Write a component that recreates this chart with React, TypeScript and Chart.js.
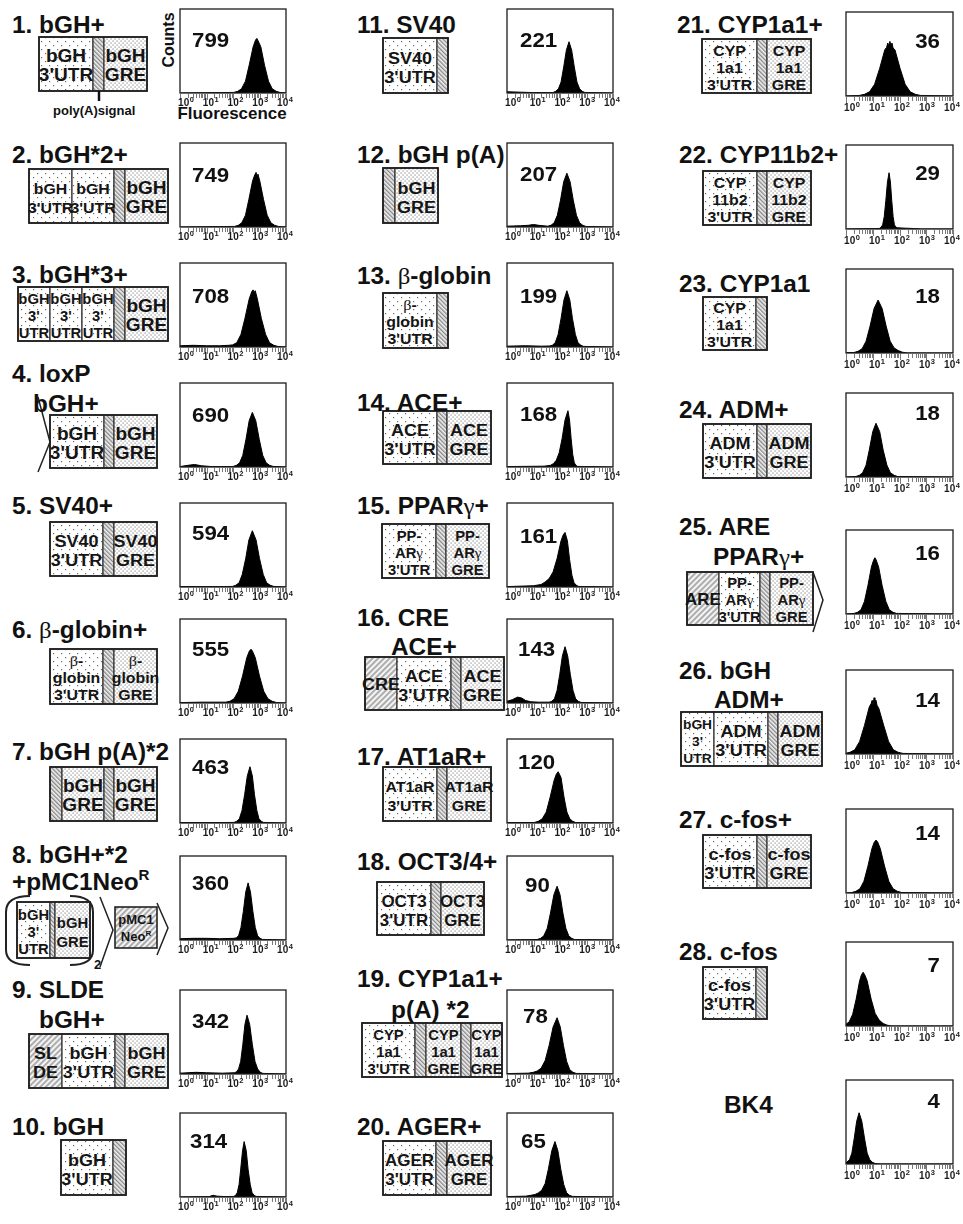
import React, { useEffect, useRef } from "react";
import { Chart, registerables } from "chart.js";

Chart.register(...registerables);

const FONT = '"Liberation Sans", Arial, Helvetica, sans-serif';

// ---------------- data ----------------
const PANEL_TITLES: string[][] = [
  ["1. bGH+"], ["2. bGH*2+"], ["3. bGH*3+"], ["4. loxP", "bGH+"], ["5. SV40+"],
  ["6. β-globin+"], ["7. bGH p(A)*2"], ["8. bGH+*2", "+pMC1Neo^R"], ["9. SLDE", "bGH+"], ["10. bGH"],
  ["11. SV40"], ["12. bGH p(A)"], ["13. β-globin"], ["14. ACE+"], ["15. PPARγ+"],
  ["16. CRE", "ACE+"], ["17. AT1aR+"], ["18. OCT3/4+"], ["19. CYP1a1+", "p(A) *2"], ["20. AGER+"],
  ["21. CYP1a1+"], ["22. CYP11b2+"], ["23. CYP1a1"], ["24. ADM+"], ["25. ARE", "PPARγ+"],
  ["26. bGH", "ADM+"], ["27. c-fos+"], ["28. c-fos"], ["BK4"],
];

const MEAN_FLUORESCENCE = [
  799, 749, 708, 690, 594, 555, 463, 360, 342, 314,
  221, 207, 199, 168, 161, 143, 120, 90, 78, 65,
  36, 29, 18, 18, 16, 14, 14, 7, 4,
];

const DECADE_EXPONENTS = [0, 1, 2, 3, 4];
const MINOR_MULTIPLIERS = [1, 2, 3, 4, 5, 6, 7, 8, 9];

// histograms: [log10 fluorescence, counts (% of axis height)]
const hist01 = [[0,0],[1.5,0.5],[2.03,0.7],[2.18,2],[2.32,5],[2.47,14],[2.61,33],[2.76,55],[2.85,63],[2.9,65],[2.95,62],[3.05,55],[3.19,33],[3.34,14],[3.48,5],[3.63,2],[3.77,0.7],[4,0]];
const hist02 = [[0,0],[1.5,0.5],[2.06,0.7],[2.2,2],[2.33,5],[2.47,14],[2.6,33],[2.74,55],[2.82,62],[2.87,65],[2.91,61],[2.94,63],[3.01,55],[3.15,33],[3.29,14],[3.43,5],[3.57,2],[3.71,0.7],[4,0]];
const hist03 = [[0,1.5],[0.5,2],[1,1.5],[1.5,1.5],[1.83,2],[1.98,2.5],[2.14,5],[2.3,15],[2.45,34],[2.61,57],[2.71,66],[2.76,68],[2.8,65],[2.84,67],[2.92,57],[3.07,34],[3.23,15],[3.38,5],[3.54,2],[3.69,0.7],[4,0]];
const hist04 = [[0,0.5],[0.3,2],[0.55,3],[0.8,1.5],[1.2,0.5],[1.9,0.5],[2.01,0.7],[2.13,2],[2.25,5],[2.37,14],[2.49,33],[2.61,55],[2.73,65],[2.86,55],[2.99,33],[3.12,14],[3.25,5],[3.38,2],[3.51,0.7],[4,0]];
const hist05 = [[0,0.5],[1.5,0.5],[1.98,0.7],[2.1,2],[2.23,5],[2.35,15],[2.48,34],[2.6,56],[2.73,67],[2.87,56],[3.0,34],[3.14,15],[3.27,5],[3.41,2],[3.54,0.7],[4,0]];
const hist06 = [[0,0.5],[0.8,1],[1.2,1],[1.72,1],[1.88,2],[2.04,5],[2.2,14],[2.36,32],[2.52,54],[2.62,62],[2.68,64],[2.73,62],[2.84,54],[3.0,32],[3.16,14],[3.32,5],[3.48,2],[3.64,0.6],[4,0]];
const hist07 = [[0,0.5],[1.5,0.5],[2.04,0.7],[2.14,2],[2.24,5],[2.34,15],[2.44,34],[2.54,56],[2.64,67],[2.73,56],[2.81,34],[2.9,15],[2.98,5],[3.07,2],[3.15,0.7],[4,0]];
const hist08 = [[0,1.5],[0.5,2],[1,2],[1.5,1.5],[2.03,2],[2.12,2.5],[2.21,5],[2.3,15],[2.39,34],[2.48,57],[2.57,68],[2.66,57],[2.75,34],[2.84,15],[2.93,5],[3.02,2],[3.11,0.7],[4,0]];
const hist09 = [[0,1],[0.6,2],[1,1.5],[1.6,1],[2.05,1.5],[2.13,2.5],[2.21,6],[2.29,15],[2.37,35],[2.45,59],[2.53,70],[2.63,59],[2.73,35],[2.83,15],[2.93,6],[3.03,2],[3.13,0.7],[4,0]];
const hist10 = [[0,0],[1.1,0.5],[1.25,2],[1.4,1],[1.7,0.5],[2.03,0.7],[2.1,2],[2.16,5],[2.23,15],[2.29,33],[2.36,55],[2.42,66],[2.5,55],[2.57,33],[2.65,15],[2.72,5],[2.8,2],[2.87,0.7],[4,0]];
const hist11 = [[0,1.5],[0.5,1],[1,0.5],[1.5,0.5],[1.74,0.6],[1.84,2],[1.94,5],[2.04,13],[2.14,31],[2.24,51],[2.34,61],[2.44,51],[2.54,31],[2.64,13],[2.74,5],[2.84,2],[2.94,0.6],[4,0]];
const hist12 = [[0,1],[0.5,1.5],[0.8,2],[1.0,3],[1.2,2],[1.54,1],[1.66,2],[1.78,5],[1.9,14],[2.02,32],[2.14,54],[2.26,64],[2.38,54],[2.5,32],[2.62,14],[2.74,5],[2.86,2],[2.98,0.6],[4,0]];
const hist13 = [[0,1],[0.7,1.5],[1.3,1],[1.6,1.2],[1.71,2],[1.82,5],[1.93,15],[2.04,34],[2.15,56],[2.26,67],[2.37,56],[2.47,34],[2.58,15],[2.68,5],[2.79,2],[2.89,0.7],[4,0]];
const hist14 = [[0,0.5],[1.4,1],[1.64,2],[1.75,4],[1.86,8],[1.97,17],[2.08,34],[2.19,56],[2.3,67],[2.36,56],[2.42,34],[2.48,15],[2.54,5],[2.6,2],[2.66,0.7],[4,0]];
const hist15 = [[0,0.5],[1.0,1.5],[1.29,3],[1.44,6],[1.59,10],[1.74,18],[1.89,34],[2.04,55],[2.12,62],[2.19,65],[2.28,55],[2.36,33],[2.45,14],[2.53,5],[2.62,2],[2.7,0.7],[4,0]];
const hist16 = [[0,2],[0.2,4],[0.4,7],[0.55,6],[0.7,3],[0.9,1.5],[1.2,1],[1.59,1],[1.69,2],[1.79,5],[1.89,15],[1.99,34],[2.09,56],[2.19,67],[2.29,56],[2.39,34],[2.49,15],[2.59,5],[2.69,2],[2.79,0.7],[4,0]];
const hist17 = [[0,0.5],[1.03,0.6],[1.18,2],[1.33,5],[1.48,13],[1.63,31],[1.78,51],[1.86,58],[1.93,61],[1.98,58],[2.04,54],[2.15,31],[2.26,13],[2.37,5],[2.48,2],[2.59,0.6],[4,0]];
const hist18 = [[0,0],[1.14,0.6],[1.27,2],[1.39,5],[1.52,14],[1.64,32],[1.77,54],[1.89,64],[2.0,54],[2.11,32],[2.22,14],[2.33,5],[2.44,2],[2.55,0.6],[4,0]];
const hist19 = [[0,0.5],[0.8,1],[0.99,2],[1.14,3.5],[1.29,7],[1.44,16],[1.59,34],[1.74,56],[1.89,67],[2.01,56],[2.13,34],[2.25,15],[2.37,5],[2.49,2],[2.61,0.7],[4,0]];
const hist20 = [[0,0.5],[0.7,1],[0.9,2],[1.06,3],[1.19,5],[1.31,8],[1.44,16],[1.56,33],[1.69,55],[1.81,66],[1.92,55],[2.03,33],[2.14,15],[2.25,5],[2.36,2],[2.47,0.7],[4,0]];
const hist21 = [[0,0],[0.5,0.7],[0.69,2],[0.88,5],[1.07,14],[1.26,33],[1.45,55],[1.52,58],[1.56,63],[1.6,60],[1.64,65],[1.68,61],[1.72,63],[1.76,57],[1.83,55],[2.02,33],[2.21,14],[2.4,5],[2.59,2],[2.78,0.7],[4,0]];
const hist22 = [[0,0],[1.1,0.5],[1.25,0.7],[1.31,2],[1.37,5],[1.43,15],[1.49,34],[1.55,56],[1.61,67],[1.66,56],[1.71,34],[1.76,15],[1.81,5],[1.86,2.5],[1.91,1.5],[2.2,1],[2.6,0.5],[2.8,0],[4,0]];
const hist23 = [[0,0.5],[0.3,0.6],[0.45,2],[0.6,5],[0.75,14],[0.9,32],[1.05,53],[1.2,63],[1.35,53],[1.5,32],[1.65,14],[1.8,6],[1.95,3],[2.1,1],[2.3,0],[4,0]];
const hist24 = [[0,0],[0.37,0.6],[0.5,2],[0.62,5],[0.75,14],[0.87,32],[1.0,54],[1.12,64],[1.26,54],[1.39,32],[1.53,14],[1.66,5],[1.8,2],[1.93,0.6],[4,0]];
const hist25 = [[0,0],[0.3,0.7],[0.43,2],[0.56,5],[0.69,15],[0.82,34],[0.95,56],[1.03,64],[1.08,67],[1.12,65],[1.22,56],[1.35,34],[1.49,15],[1.62,5],[1.76,2],[1.89,0.7],[4,0]];
const hist26 = [[0,1],[0.15,2],[0.33,5],[0.51,15],[0.69,34],[0.87,56],[0.94,60],[0.98,64],[1.01,58],[1.05,67],[1.08,60],[1.12,64],[1.16,58],[1.23,54],[1.41,34],[1.59,15],[1.77,5],[1.95,2],[2.13,0.7],[4,0]];
const hist27 = [[0,0],[0.22,0.6],[0.37,2],[0.52,5],[0.67,14],[0.82,32],[0.97,53],[1.05,60],[1.12,63],[1.18,61],[1.28,53],[1.44,32],[1.6,14],[1.76,5],[1.92,2],[2.08,0.6],[4,0]];
const hist28 = [[0,2],[0.12,5],[0.25,14],[0.38,32],[0.51,54],[0.58,61],[0.64,64],[0.7,61],[0.79,54],[0.94,32],[1.09,15],[1.24,7],[1.39,3],[1.54,1],[1.7,0],[4,0]];
const hist29 = [[0,1.5],[0.13,5],[0.22,13],[0.31,31],[0.4,51],[0.49,61],[0.59,51],[0.69,31],[0.79,13],[0.89,5],[0.99,2],[1.09,0.6],[1.3,0],[4,0]];

const HISTOGRAMS = [
  hist01, hist02, hist03, hist04, hist05, hist06, hist07, hist08, hist09, hist10,
  hist11, hist12, hist13, hist14, hist15, hist16, hist17, hist18, hist19, hist20,
  hist21, hist22, hist23, hist24, hist25, hist26, hist27, hist28, hist29,
];

// ---------------- layout ----------------
const COL_X = [180, 507, 846];
const BOX_W = [106, 106, 107];
const BOX_H = 84;
const ROW_Y_AB = [9, 143, 263, 383, 503, 619, 739, 856, 990, 1113];
const ROW_Y_C = [12, 145, 269, 393, 530, 670, 809, 942, 1080];
const TICK_LABEL_DY = [12, 12, 14];
const PAD = { l: 3, t: 3, r: 10, b: 18 };

// number label: [dx from left (or from right for col 3), baseline dy from top]
const NUM_POS = [
  [12, 38], [12, 39], [12, 40], [12, 39], [12, 37], [12, 37], [12, 35], [12, 34], [12, 38], [10, 35],
  [13, 38], [13, 38], [13, 40], [13, 38], [13, 40], [11, 37], [11, 30], [18, 36], [16, 33], [14, 35],
  [13, 36], [13, 35], [13, 34], [13, 27], [13, 30], [13, 37], [13, 31], [13, 30], [13, 28],
];

const TITLE_POS = [
  [[12, 33]], [[12, 163]], [[12, 283]], [[12, 382], [33, 412]], [[12, 514]],
  [[12, 638]], [[12, 760]], [[12, 863], [12, 890]], [[12, 998], [39, 1028]], [[12, 1135]],
  [[357, 33]], [[357, 163]], [[357, 284]], [[357, 411]], [[357, 514]],
  [[357, 626], [391, 655]], [[357, 765]], [[357, 870]], [[357, 987], [391, 1018]], [[357, 1135]],
  [[677, 33]], [[679, 163]], [[679, 292]], [[679, 418]], [[679, 535], [713, 565]],
  [[679, 679], [714, 708]], [[679, 828]], [[679, 960]], [[724, 1113]],
];

type Seg = [string, number, string[]?, number?];
type Diag = { x: number; y: number; h: number; segs: Seg[] };
const U3 = "3'UTR";
const DIAGRAMS: (Diag | null)[] = [
  { x: 39, y: 37, h: 54, segs: [["u", 54, ["bGH", U3], 18], ["p", 11], ["g", 43, ["bGH", "GRE"], 18]] },
  { x: 29, y: 169, h: 54, segs: [["u", 43, ["bGH", U3], 15], ["u", 42, ["bGH", U3], 15], ["p", 11], ["g", 43, ["bGH", "GRE"], 18]] },
  { x: 18, y: 287, h: 54, segs: [["u", 32, ["bGH", "3'", "UTR"], 14], ["u", 32, ["bGH", "3'", "UTR"], 14], ["u", 32, ["bGH", "3'", "UTR"], 14], ["p", 11], ["g", 43, ["bGH", "GRE"], 18]] },
  { x: 50, y: 415, h: 53, segs: [["u", 54, ["bGH", U3], 18], ["p", 10], ["g", 43, ["bGH", "GRE"], 18]] },
  { x: 50, y: 522, h: 54, segs: [["u", 53, ["SV40", U3], 17], ["p", 11], ["g", 43, ["SV40", "GRE"], 17]] },
  { x: 50, y: 649, h: 55, segs: [["u", 53, ["β-", "globin", U3], 15], ["p", 11], ["g", 43, ["β-", "globin", "GRE"], 15]] },
  { x: 50, y: 767, h: 54, segs: [["p", 12], ["g", 42, ["bGH", "GRE"], 18], ["p", 10], ["g", 43, ["bGH", "GRE"], 18]] },
  { x: 17, y: 902, h: 56, segs: [["u", 33, ["bGH", "3'", "UTR"], 14], ["p", 5], ["g", 35, ["bGH", "GRE"], 14]] },
  { x: 29, y: 1034, h: 54, segs: [["w", 33, ["SL", "DE"], 17], ["u", 53, ["bGH", U3], 17], ["p", 10], ["g", 43, ["bGH", "GRE"], 17]] },
  { x: 61, y: 1140, h: 55, segs: [["u", 52, ["bGH", U3], 17], ["p", 13]] },
  { x: 383, y: 38, h: 55, segs: [["u", 54, ["SV40", U3], 17], ["p", 11]] },
  { x: 383, y: 168, h: 55, segs: [["p", 12], ["g", 43, ["bGH", "GRE"], 17]] },
  { x: 383, y: 293, h: 55, segs: [["u", 54, ["β-", "globin", U3], 15], ["p", 11]] },
  { x: 383, y: 411, h: 53, segs: [["u", 54, ["ACE", U3], 17], ["p", 10], ["g", 44, ["ACE", "GRE"], 17]] },
  { x: 382, y: 524, h: 54, segs: [["u", 54, ["PP-", "ARγ", U3], 14], ["p", 10], ["g", 43, ["PP-", "ARγ", "GRE"], 14]] },
  { x: 365, y: 657, h: 53, segs: [["w", 32, ["CRE"], 17], ["u", 54, ["ACE", U3], 17], ["p", 10], ["g", 43, ["ACE", "GRE"], 17]] },
  { x: 383, y: 767, h: 54, segs: [["u", 54, ["AT1aR", U3], 15], ["p", 10], ["g", 44, ["AT1aR", "GRE"], 15]] },
  { x: 377, y: 882, h: 53, segs: [["u", 54, ["OCT3", U3], 16], ["p", 10], ["g", 43, ["OCT3", "GRE"], 16]] },
  { x: 362, y: 1023, h: 54, segs: [["u", 53, ["CYP", "1a1", U3], 14], ["p", 11], ["g", 35, ["CYP", "1a1", "GRE"], 14], ["p", 10], ["g", 31, ["CYP", "1a1", "GRE"], 14]] },
  { x: 383, y: 1141, h: 54, segs: [["u", 53, ["AGER", U3], 16], ["p", 11], ["g", 44, ["AGER", "GRE"], 16]] },
  { x: 702, y: 39, h: 54, segs: [["u", 55, ["CYP", "1a1", U3], 15], ["p", 10], ["g", 44, ["CYP", "1a1", "GRE"], 15]] },
  { x: 703, y: 171, h: 54, segs: [["u", 54, ["CYP", "11b2", U3], 15], ["p", 10], ["g", 44, ["CYP", "11b2", "GRE"], 15]] },
  { x: 703, y: 297, h: 53, segs: [["u", 53, ["CYP", "1a1", U3], 15], ["p", 11]] },
  { x: 703, y: 424, h: 54, segs: [["u", 54, ["ADM", U3], 17], ["p", 10], ["g", 44, ["ADM", "GRE"], 17]] },
  { x: 687, y: 572, h: 53, segs: [["w", 32, ["ARE"], 16], ["u", 41, ["PP-", "ARγ", U3], 14], ["p", 10], ["g", 43, ["PP-", "ARγ", "GRE"], 14]] },
  { x: 681, y: 712, h: 54, segs: [["u", 33, ["bGH", "3'", "UTR"], 13], ["u", 54, ["ADM", U3], 17], ["p", 10], ["g", 44, ["ADM", "GRE"], 17]] },
  { x: 703, y: 835, h: 53, segs: [["u", 54, ["c-fos", U3], 17], ["p", 10], ["g", 44, ["c-fos", "GRE"], 17]] },
  { x: 703, y: 967, h: 52, segs: [["u", 53, ["c-fos", U3], 17], ["p", 11]] },
  null,
];

const FILL: Record<string, string> = { u: "url(#pUtr)", g: "url(#pGre)", p: "url(#pPa)", w: "url(#pWide)" };

function rich(s: string, fs: number, kp: string) {
  const out: React.ReactNode[] = [];
  let buf = "";
  let k = 0;
  const flush = () => {
    if (buf) {
      out.push(<tspan key={kp + k++}>{buf}</tspan>);
      buf = "";
    }
  };
  for (let i = 0; i < s.length; i++) {
    const c = s[i];
    if (c === "β" || c === "γ") {
      flush();
      out.push(
        <tspan key={kp + k++} fontFamily="'Liberation Serif','DejaVu Serif',serif" fontWeight="normal" fontSize={fs * 1.02}>
          {c}
        </tspan>
      );
    } else if (c === "^") {
      flush();
      out.push(
        <tspan key={kp + k++} fontSize={fs * 0.62} dy={-fs * 0.42}>
          {s[i + 1]}
        </tspan>
      );
      i++;
    } else buf += c;
  }
  flush();
  return out;
}

function DiagramView({ d, idx }: { d: Diag; idx: number }) {
  const rects: React.ReactNode[] = [];
  const texts: React.ReactNode[] = [];
  let cx = d.x;
  d.segs.forEach((s, i) => {
    const [kind, w, lines, fs] = s;
    rects.push(<rect key={"r" + i} x={cx} y={d.y} width={w} height={d.h} fill={FILL[kind]} stroke="#333" strokeWidth={1.2} />);
    if (lines && fs) {
      const n = lines.length;
      const ls = n === 3 ? 17 : n === 2 ? 19 : fs;
      const b0 = d.y + (d.h - n * ls) / 2 + ls * 0.9;
      lines.forEach((ln, j) => {
        texts.push(
          <text
            key={"t" + i + "_" + j}
            transform={`translate(${cx + w / 2},${b0 + j * ls}) scale(1.06,1)`}
            textAnchor="middle"
            fontSize={fs}
            fontWeight="bold"
            fontFamily={FONT}
            fill="#151515"
          >
            {rich(ln, fs, "d" + idx + i + j)}
          </text>
        );
      });
    }
    cx += w;
  });
  return (
    <g>
      {rects}
      <rect x={d.x} y={d.y} width={cx - d.x} height={d.h} fill="none" stroke="#222" strokeWidth={1.8} />
      {texts}
    </g>
  );
}

function HistPanel({ i }: { i: number }) {
  const ref = useRef<HTMLCanvasElement | null>(null);
  const col = i < 10 ? 0 : i < 20 ? 1 : 2;
  const row = col === 2 ? i - 20 : i - col * 10;
  const bx = COL_X[col];
  const by = col === 2 ? ROW_Y_C[row] : ROW_Y_AB[row];
  const bw = BOX_W[col];
  const cw = bw + PAD.l + PAD.r;
  const ch = BOX_H + PAD.t + PAD.b;

  useEffect(() => {
    const pts = HISTOGRAMS[i].map(([lx, c]) => ({ x: Math.pow(10, lx), y: c }));
    const [ndx, ndy] = NUM_POS[i];
    const tdy = TICK_LABEL_DY[col];
    const frame = {
      id: "frame" + i,
      afterDraw(chart: any) {
        const { ctx, chartArea: a } = chart;
        const xs = chart.scales.x;
        ctx.save();
        // log ticks under the axis
        ctx.strokeStyle = "#7a7a7a";
        ctx.lineWidth = 1;
        ctx.beginPath();
        DECADE_EXPONENTS.forEach((d) =>
          MINOR_MULTIPLIERS.forEach((m) => {
            const v = m * Math.pow(10, d);
            if (v > 10000) return;
            const px = Math.round(xs.getPixelForValue(v)) + 0.5;
            const len = m === 1 ? 6 : 4;
            ctx.moveTo(px, a.bottom + 1);
            ctx.lineTo(px, a.bottom + 1 + len);
          })
        );
        ctx.stroke();
        // frame
        ctx.strokeStyle = "#1c1c1c";
        ctx.lineWidth = 1.3;
        ctx.strokeRect(a.left, a.top, a.right - a.left, a.bottom - a.top);
        // tick labels 10^k
        ctx.fillStyle = "#1a1a1a";
        ctx.textAlign = "left";
        ctx.textBaseline = "alphabetic";
        const span = a.right - 1 - (a.left + 6);
        DECADE_EXPONENTS.forEach((k, j) => {
          const cx = a.left + 6 + (span * j) / 4;
          ctx.font = `bold 10px ${FONT}`;
          const w10 = ctx.measureText("10").width;
          ctx.font = `bold 7.5px ${FONT}`;
          const ws = ctx.measureText(String(k)).width;
          const sx = cx - (w10 + ws + 0.5) / 2;
          ctx.font = `bold 10px ${FONT}`;
          ctx.fillText("10", sx, a.bottom + tdy + 1);
          ctx.font = `bold 7.5px ${FONT}`;
          ctx.fillText(String(k), sx + w10 + 0.5, a.bottom + tdy - 3.5);
        });
        // mean fluorescence value
        ctx.fillStyle = "#111";
        ctx.font = `bold 21px ${FONT}`;
        ctx.save();
        if (col === 2) {
          ctx.textAlign = "right";
          ctx.translate(a.right - ndx, a.top + ndy);
        } else {
          ctx.textAlign = "left";
          ctx.translate(a.left + ndx, a.top + ndy);
        }
        ctx.scale(1.06, 1);
        ctx.fillText(String(MEAN_FLUORESCENCE[i]), 0, 0);
        ctx.restore();
        ctx.restore();
      },
    };
    const chart = new Chart(ref.current as HTMLCanvasElement, {
      type: "line",
      data: {
        datasets: [
          {
            data: pts,
            fill: "origin",
            backgroundColor: "#000",
            borderColor: "#000",
            borderWidth: 1,
            pointRadius: 0,
            tension: 0,
          },
        ],
      },
      options: {
        responsive: false,
        animation: false,
        events: [],
        layout: { padding: { left: PAD.l, top: PAD.t, right: PAD.r, bottom: PAD.b } },
        plugins: { legend: { display: false }, tooltip: { enabled: false } },
        scales: {
          x: { type: "logarithmic", min: 1, max: 10000, display: false },
          y: { type: "linear", min: 0, max: 100, display: false },
        },
      } as any,
      plugins: [frame as any],
    });
    return () => chart.destroy();
  }, [i]);

  return (
    <canvas
      ref={ref}
      width={cw}
      height={ch}
      style={{ position: "absolute", left: bx - PAD.l, top: by - PAD.t, width: cw, height: ch }}
    />
  );
}

export default function App() {
  return (
    <div
      style={{
        position: "absolute",
        left: 0,
        top: 0,
        width: 963,
        height: 1224,
        overflow: "hidden",
        background: "#fff",
      }}
    >
      <svg width={963} height={1224} style={{ position: "absolute", left: 0, top: 0 }}>
        <defs>
          <pattern id="pUtr" patternUnits="userSpaceOnUse" width="8" height="8">
            <rect width="8" height="8" fill="#fff" />
            <rect x="1" y="1" width="1.2" height="1.2" fill="#6a6a6a" />
            <rect x="5" y="5" width="1.2" height="1.2" fill="#6a6a6a" />
          </pattern>
          <pattern id="pGre" patternUnits="userSpaceOnUse" width="4" height="4">
            <rect width="4" height="4" fill="#fff" />
            <rect x="0.5" y="0.5" width="1.1" height="1.1" fill="#777" />
            <rect x="2.5" y="2.5" width="1.1" height="1.1" fill="#777" />
          </pattern>
          <pattern id="pPa" patternUnits="userSpaceOnUse" width="3" height="3" patternTransform="rotate(-45)">
            <rect width="3" height="3" fill="#f0f0f0" />
            <line x1="0.75" y1="0" x2="0.75" y2="3" stroke="#555" strokeWidth="0.9" />
          </pattern>
          <pattern id="pWide" patternUnits="userSpaceOnUse" width="4" height="4" patternTransform="rotate(45)">
            <rect width="4" height="4" fill="#f4f4f4" />
            <line x1="1" y1="0" x2="1" y2="4" stroke="#666" strokeWidth="1" />
          </pattern>
        </defs>

        {DIAGRAMS.map((d, i) => (d ? <DiagramView key={"dg" + i} d={d} idx={i} /> : null))}

        {/* decorations */}
        <line x1={99} y1={91} x2={99} y2={101} stroke="#111" strokeWidth={2.5} />
        <text x={53} y={115} fontSize={13} fontWeight="bold" fontFamily={FONT} fill="#111">
          poly(A)signal
        </text>
        <polyline points="38,397 50,442 38,472" fill="none" stroke="#222" strokeWidth={1.5} />
        <path d="M 30 896 Q 6 896 6 912 L 6 950 Q 6 965 30 965" fill="none" stroke="#222" strokeWidth={2} />
        <path d="M 70 896 Q 93 896 93 912 L 93 950 Q 93 965 70 965" fill="none" stroke="#222" strokeWidth={2} />
        <text x={94} y={969} fontSize={13} fontWeight="bold" fontFamily={FONT} fill="#111">
          2
        </text>
        <polyline points="100,897 113,930 100,967" fill="none" stroke="#222" strokeWidth={1.5} />
        <rect x={115} y={907} width={42} height={41} fill="url(#pWide)" stroke="#222" strokeWidth={1.6} />
        <text transform="translate(136,924)" textAnchor="middle" fontSize={13} fontWeight="bold" fontFamily={FONT} fill="#151515">
          pMC1
        </text>
        <text transform="translate(136,941)" textAnchor="middle" fontSize={13} fontWeight="bold" fontFamily={FONT} fill="#151515">
          {rich("Neo^R", 13, "neo")}
        </text>
        <polyline points="157,903 168,928 157,955" fill="none" stroke="#222" strokeWidth={1.5} />
        <polyline points="813,572 823,600 813,632" fill="none" stroke="#222" strokeWidth={1.5} />

        {/* axis captions (panel 1) */}
        <text transform="translate(174,40) rotate(-90)" textAnchor="middle" fontSize={16} fontWeight="bold" fontFamily={FONT} fill="#111">
          Counts
        </text>
        <text transform="translate(232,119) scale(1.06,1)" textAnchor="middle" fontSize={16} fontWeight="bold" fontFamily={FONT} fill="#111">
          Fluorescence
        </text>

        {/* titles */}
        {PANEL_TITLES.map((lines, i) =>
          lines.map((ln, j) => (
            <text
              key={"ti" + i + "_" + j}
              transform={`translate(${TITLE_POS[i][j][0]},${TITLE_POS[i][j][1]}) scale(1.06,1)`}
              fontSize={23}
              fontWeight="bold"
              fontFamily={FONT}
              fill="#111"
            >
              {rich(ln, 23, "t" + i + j)}
            </text>
          ))
        )}
      </svg>
      {HISTOGRAMS.map((_, i) => (
        <HistPanel key={"h" + i} i={i} />
      ))}
    </div>
  );
}
